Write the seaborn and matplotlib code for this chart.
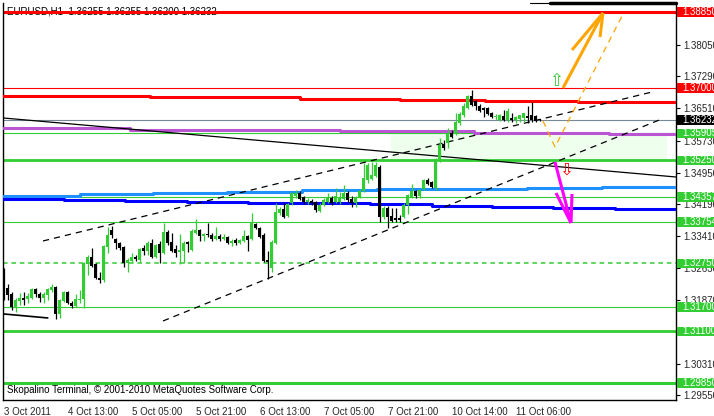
import matplotlib
matplotlib.use('Agg')
import matplotlib.pyplot as plt
import matplotlib.transforms as mtransforms
from matplotlib.patches import Rectangle
import numpy as np
import pandas as pd
import seaborn as sns

# EURUSD H1 candles (bar index 0 = first visible bar)
opens = [1.32591, 1.32154, 1.32009, 1.31693, 1.31839, 1.31912, 1.31888, 1.31912, 1.32130, 1.32009,
         1.31912, 1.31985, 1.32106, 1.32178, 1.31524, 1.31839, 1.32057, 1.31790, 1.31718, 1.31863,
         1.31888, 1.32737, 1.32907, 1.32737, 1.32397, 1.32348, 1.33149, 1.33561, 1.33343, 1.33246,
         1.33149, 1.32761, 1.32810, 1.32907, 1.32834, 1.33125, 1.33052, 1.33246, 1.32907, 1.33222,
         1.33003, 1.33513, 1.33270, 1.33100, 1.33028, 1.33052, 1.33270, 1.33076, 1.33488, 1.33561,
         1.33416, 1.33464, 1.33440, 1.33343, 1.33416, 1.33343, 1.33391, 1.33246, 1.33319, 1.33246,
         1.33294, 1.33416, 1.33343, 1.33707, 1.33610, 1.33440, 1.32834, 1.32640, 1.33246, 1.33974,
         1.34071, 1.33901, 1.34216, 1.34386, 1.34459, 1.34362, 1.34241, 1.34265, 1.34241, 1.34022,
         1.34168, 1.34241, 1.34338, 1.34241, 1.34241, 1.34313, 1.34459, 1.34313, 1.34216, 1.34362,
         1.34507, 1.34774, 1.34798, 1.34871, 1.35090, 1.33877, 1.34095, 1.33901, 1.33852, 1.33852,
         1.33877, 1.34168, 1.34362, 1.34507, 1.34386, 1.34556, 1.34774, 1.34726, 1.34580, 1.35284,
         1.35648, 1.35672, 1.35915, 1.35890, 1.36158, 1.36352, 1.36521, 1.36812, 1.36691, 1.36570,
         1.36521, 1.36521, 1.36400, 1.36303, 1.36230, 1.36327, 1.36230, 1.36279, 1.36230, 1.36255,
         1.36279, 1.36327, 1.36352, 1.36327, 1.36255]
highs = [1.32640, 1.32251, 1.32057, 1.31912, 1.32033, 1.32057, 1.32033, 1.32154, 1.32154, 1.32057,
         1.32057, 1.32154, 1.32251, 1.32203, 1.31888, 1.32082, 1.32082, 1.31839, 1.32009, 1.32106,
         1.32785, 1.32955, 1.33125, 1.32761, 1.32543, 1.33197, 1.33634, 1.33658, 1.33367, 1.33270,
         1.33173, 1.32882, 1.33003, 1.32955, 1.33125, 1.33197, 1.33294, 1.33343, 1.33222, 1.33294,
         1.33731, 1.33561, 1.33488, 1.33197, 1.33464, 1.33294, 1.33294, 1.33585, 1.33828, 1.33585,
         1.33488, 1.33731, 1.33488, 1.33634, 1.33464, 1.33464, 1.33416, 1.33343, 1.33367, 1.33343,
         1.33561, 1.33440, 1.33974, 1.33731, 1.33634, 1.33488, 1.33052, 1.33319, 1.34216, 1.34119,
         1.34216, 1.34216, 1.34483, 1.34532, 1.34507, 1.34386, 1.34338, 1.34313, 1.34265, 1.34216,
         1.34338, 1.34459, 1.34386, 1.34580, 1.34483, 1.34653, 1.34507, 1.34386, 1.34386, 1.34556,
         1.35187, 1.35187, 1.35211, 1.35211, 1.35138, 1.34144, 1.34144, 1.34095, 1.34095, 1.33925,
         1.34216, 1.34435, 1.34677, 1.34532, 1.34556, 1.34798, 1.34823, 1.34750, 1.35308, 1.35794,
         1.35745, 1.36036, 1.35987, 1.36400, 1.36424, 1.36643, 1.36836, 1.36958, 1.36715, 1.36618,
         1.36546, 1.36546, 1.36424, 1.36376, 1.36376, 1.36473, 1.36521, 1.36400, 1.36327, 1.36352,
         1.36400, 1.36570, 1.36667, 1.36352, 1.36255]
lows = [1.31863, 1.31863, 1.31621, 1.31572, 1.31742, 1.31742, 1.31790, 1.31888, 1.31936, 1.31815,
        1.31790, 1.31863, 1.32057, 1.31403, 1.31427, 1.31815, 1.31766, 1.31669, 1.31693, 1.31790,
        1.31669, 1.32470, 1.32664, 1.32373, 1.32276, 1.32300, 1.33003, 1.33367, 1.33100, 1.33076,
        1.32664, 1.32543, 1.32785, 1.32810, 1.32785, 1.32955, 1.32955, 1.32882, 1.32882, 1.32761,
        1.32979, 1.33197, 1.33028, 1.32907, 1.32737, 1.32761, 1.33028, 1.33052, 1.33464, 1.33294,
        1.33294, 1.33391, 1.33294, 1.33319, 1.33294, 1.33319, 1.33222, 1.33173, 1.33197, 1.33222,
        1.33270, 1.33052, 1.33319, 1.33585, 1.33367, 1.32785, 1.32373, 1.32543, 1.33222, 1.33925,
        1.33852, 1.33877, 1.34168, 1.34338, 1.34289, 1.34192, 1.34192, 1.34168, 1.33998, 1.33998,
        1.34144, 1.34216, 1.34168, 1.34216, 1.34192, 1.34289, 1.34241, 1.34119, 1.34119, 1.34338,
        1.34483, 1.34701, 1.34774, 1.34847, 1.33756, 1.33828, 1.33610, 1.33756, 1.33756, 1.33756,
        1.33852, 1.33950, 1.34338, 1.34338, 1.34338, 1.34532, 1.34653, 1.34580, 1.34532, 1.35211,
        1.35502, 1.35551, 1.35794, 1.35866, 1.36109, 1.36303, 1.36497, 1.36570, 1.36473, 1.36424,
        1.36303, 1.36352, 1.36279, 1.36230, 1.36206, 1.36206, 1.36182, 1.36182, 1.36158, 1.36182,
        1.36182, 1.36158, 1.36182, 1.36182, 1.36200]
closes = [1.32154, 1.31985, 1.31693, 1.31863, 1.31912, 1.31863, 1.31960, 1.32130, 1.32009, 1.31912,
          1.32009, 1.32130, 1.32178, 1.31524, 1.31863, 1.32057, 1.31790, 1.31718, 1.31888, 1.31888,
          1.32761, 1.32907, 1.32688, 1.32397, 1.32348, 1.33173, 1.33440, 1.33440, 1.33246, 1.33125,
          1.32761, 1.32834, 1.32907, 1.32858, 1.33100, 1.33052, 1.33246, 1.32907, 1.33197, 1.33003,
          1.33513, 1.33246, 1.33052, 1.33003, 1.33076, 1.33246, 1.33222, 1.33537, 1.33561, 1.33416,
          1.33464, 1.33440, 1.33343, 1.33416, 1.33343, 1.33391, 1.33246, 1.33294, 1.33246, 1.33319,
          1.33416, 1.33319, 1.33731, 1.33610, 1.33391, 1.32810, 1.32785, 1.33270, 1.33998, 1.34071,
          1.33877, 1.34192, 1.34459, 1.34459, 1.34313, 1.34241, 1.34289, 1.34216, 1.34047, 1.34168,
          1.34289, 1.34338, 1.34216, 1.34386, 1.34362, 1.34459, 1.34289, 1.34216, 1.34362, 1.34507,
          1.34823, 1.35138, 1.34895, 1.35138, 1.33877, 1.34095, 1.33877, 1.33780, 1.33804, 1.33804,
          1.34168, 1.34410, 1.34507, 1.34386, 1.34532, 1.34774, 1.34677, 1.34604, 1.35284, 1.35623,
          1.35551, 1.35915, 1.35818, 1.36182, 1.36376, 1.36570, 1.36812, 1.36594, 1.36570, 1.36449,
          1.36473, 1.36376, 1.36303, 1.36327, 1.36352, 1.36230, 1.36449, 1.36230, 1.36303, 1.36352,
          1.36400, 1.36279, 1.36230, 1.36206, 1.36232]

time_ticks = [0, 16, 32, 48, 64, 80, 96, 112, 128]
time_labels = ['3 Oct 2011', '4 Oct 13:00', '5 Oct 05:00', '5 Oct 21:00', '6 Oct 13:00',
               '7 Oct 05:00', '7 Oct 21:00', '10 Oct 14:00', '11 Oct 06:00']
price_ticks = [1.38050, 1.37290, 1.36510, 1.35730, 1.34950, 1.34190, 1.33410,
               1.32630, 1.31870, 1.31100, 1.30310, 1.29550]

# horizontal levels: price, colour, width, style
levels = [(1.38850, 'red', 2.2, '-'), (1.37000, 'red', 0.8, '-'), (1.36232, '#778899', 0.8, '-'),
          (1.35905, '#32CD32', 0.8, '-'), (1.35250, '#32CD32', 2.0, '-'),
          (1.34357, '#32CD32', 0.8, '-'), (1.33754, '#32CD32', 0.8, '-'),
          (1.32750, '#32CD32', 1.1, (0, (3, 2.5))), (1.31700, '#32CD32', 0.8, '-'),
          (1.31100, '#32CD32', 2.0, '-'), (1.29850, '#32CD32', 2.2, '-')]
# price boxes on the right axis
boxes = [(1.38850, 'red'), (1.37000, 'red'), (1.36232, 'black'), (1.35905, '#32CD32'),
         (1.35250, '#32CD32'), (1.34357, '#32CD32'), (1.33754, '#32CD32'), (1.32750, '#32CD32'),
         (1.31700, '#32CD32'), (1.31100, '#32CD32'), (1.29850, '#32CD32')]

# stepped indicator lines (bar where each step starts, price)
red_x = [-0.2, 36.55, 74.05, 99.05, 120.3, 143.55, 168.05]
red_y = [1.36812, 1.36788, 1.36751, 1.36715, 1.36691, 1.36674, 1.36674]
purple_x = [-0.2, 31.55, 67.05, 84.05, 117.55, 151.3, 168.05]
purple_y = [1.36036, 1.35999, 1.35975, 1.35956, 1.35919, 1.35878, 1.35878]
lblue_x = [-0.2, 19.05, 37.3, 55.8, 74.55, 93.3, 112.05, 130.8, 149.55, 168.05]
lblue_y = [1.34398, 1.34427, 1.34459, 1.34488, 1.34520, 1.34544, 1.34561, 1.34585, 1.34609, 1.34609]
dblue_x = [-0.2, 15.05, 30.3, 45.8, 61.05, 76.3, 91.55, 107.05, 122.05, 137.3, 152.8, 168.05]
dblue_y = [1.34325, 1.34301, 1.34272, 1.34240, 1.34224, 1.34204, 1.34180, 1.34143, 1.34119,
           1.34102, 1.34071, 1.34071]

# trend lines
upper_ch_x, upper_ch_y = [9.8, 162.05], [1.33295, 1.36909]
lower_ch_x, lower_ch_y = [39.8, 164.05], [1.31354, 1.36237]
diag_x, diag_y = [-0.2, 168.05], [1.36279, 1.34847]
short_x, short_y = [0, 11], [1.31524, 1.31427]
top_thin_x, top_thin_y = [131.5, 137.0], [1.39056, 1.39056]
top_x, top_y = [136.5, 168.05], [1.39056, 1.39056]
zone_x, zone_y = [96.8, 165.8], [1.35250, 1.35905]

# forecast arrows
up_shaft_x, up_shaft_y = [139.8, 149.8], [1.37006, 1.38826]
up_barb1_x, up_barb1_y = [142.05, 149.8], [1.37928, 1.38826]
up_barb2_x, up_barb2_y = [149.05, 149.8], [1.38243, 1.38826]
alt_x, alt_y = [134.8, 137.8, 154.8], [1.36206, 1.35575, 1.38801]
dn_shaft_x, dn_shaft_y = [137.8, 141.8], [1.35211, 1.33731]
dn_barb1_x, dn_barb1_y = [138.05, 141.8], [1.34459, 1.33731]
dn_barb2_x, dn_barb2_y = [142.05, 141.8], [1.34435, 1.33731]
buy_sign = (138.05, 1.37176)
sell_sign = (140.55, 1.35017)

sns.set_style('white')
plt.rcParams['font.family'] = ['Liberation Sans', 'DejaVu Sans']

fig = plt.figure(figsize=(7.14, 4.16), dpi=100)
ax = fig.add_axes([3 / 714, 16 / 416, 673 / 714, 397 / 416])
ax.set_xlim(-0.2, 168.05)
ax.set_ylim(1.29437, 1.39068)

ax.add_patch(Rectangle((zone_x[0], zone_y[0]), zone_x[1] - zone_x[0], zone_y[1] - zone_y[0],
                       fc='#EEFFEE', ec='none', zorder=0))

for price, col, lw, ls in levels:
    ax.axhline(price, color=col, lw=lw, ls=ls, zorder=2)

for xs, ys, col in [(red_x, red_y, 'red'), (purple_x, purple_y, '#BA55D3'),
                    (lblue_x, lblue_y, '#1E90FF'), (dblue_x, dblue_y, '#0000FF')]:
    sns.lineplot(x=xs, y=ys, color=col, lw=2.2, drawstyle='steps-post', legend=False, ax=ax, zorder=3)

ax.plot(upper_ch_x, upper_ch_y, color='black', lw=0.9, ls=(0, (5, 4)), zorder=3)
ax.plot(lower_ch_x, lower_ch_y, color='black', lw=0.9, ls=(0, (5, 4)), zorder=3)
ax.plot(diag_x, diag_y, color='black', lw=0.9, zorder=3)
ax.plot(short_x, short_y, color='black', lw=1.2, zorder=3)
ax.plot(top_thin_x, top_thin_y, color='black', lw=0.8, zorder=3, clip_on=False)
ax.plot(top_x, top_y, color='black', lw=2.5, zorder=3, clip_on=False)

# candles
df = pd.DataFrame({'o': opens, 'h': highs, 'l': lows, 'c': closes})
df['x'] = np.arange(len(df))
df['col'] = np.where(df['c'] >= df['o'], '#32CD32', 'black')
body_low = df[['o', 'c']].min(axis=1)
body_h = np.maximum((df['c'] - df['o']).abs(), 0.00022)
ax.vlines(df['x'], df['l'], df['h'], colors=df['col'], lw=0.9, zorder=4)
ax.bar(df['x'], body_h, bottom=body_low, width=0.75, color=df['col'], lw=0, zorder=5)

# arrows
for xs, ys in [(up_shaft_x, up_shaft_y), (up_barb1_x, up_barb1_y), (up_barb2_x, up_barb2_y)]:
    ax.plot(xs, ys, color='#FFA500', lw=2.2, zorder=6, solid_capstyle='butt')
ax.plot(alt_x, alt_y, color='#FFA500', lw=0.9, ls=(0, (5, 4)), zorder=6)
for xs, ys in [(dn_shaft_x, dn_shaft_y), (dn_barb1_x, dn_barb1_y), (dn_barb2_x, dn_barb2_y)]:
    ax.plot(xs, ys, color='#FF00FF', lw=2.2, zorder=6, solid_capstyle='butt')
ax.text(buy_sign[0], buy_sign[1], '\u21e7', color='#32CD32', fontsize=12, ha='center', va='center',
        family='DejaVu Sans', zorder=7)
ax.text(sell_sign[0], sell_sign[1], '\u21e9', color='red', fontsize=12, ha='center', va='center',
        family='DejaVu Sans', zorder=7)

# axes
for side in ['left', 'right', 'bottom']:
    ax.spines[side].set_color('black')
    ax.spines[side].set_linewidth(1)
ax.spines['top'].set_visible(False)
ax.yaxis.tick_right()
ax.set_yticks(price_ticks)
ax.set_yticklabels([f'{p:.5f}' for p in price_ticks])
ax.set_xticks(time_ticks)
ax.set_xticklabels(time_labels)
ax.tick_params(axis='both', labelsize=7, length=3, width=0.8, color='black', direction='out', pad=2)
plt.setp(ax.get_xticklabels(), ha='left')

trans = mtransforms.blended_transform_factory(ax.transAxes, ax.transData)
for price, col in boxes:
    ax.add_patch(Rectangle((1.0015, price - 0.00118), 0.06, 0.00236, transform=trans,
                           fc=col, ec='none', clip_on=False, zorder=10))
    ax.text(1.0 + 6 / 673, price, f'{price:.5f}', transform=trans, color='white', fontsize=7,
            ha='left', va='center', clip_on=False, zorder=11)

ax.text(4 / 673, 1.38850, 'EURUSD,H1  1.36255 1.36255 1.36200 1.36232', transform=trans,
        fontsize=7, va='center', ha='left', color='black', zorder=1)
ax.text(4 / 673, 10 / 397, 'Skopalino Terminal, \u00a9 2001-2010 MetaQuotes Software Corp.',
        transform=ax.transAxes, fontsize=7, va='center', ha='left', color='black', zorder=8)

fig.savefig('out.png', dpi=100)
